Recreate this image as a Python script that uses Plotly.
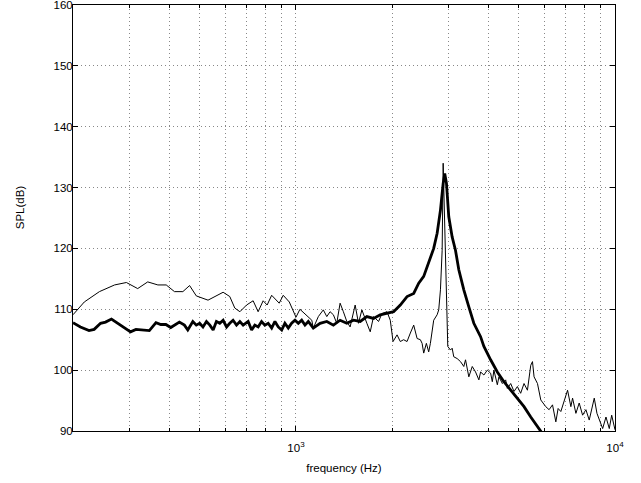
import plotly.graph_objects as go
import math

# Thin line (e.g. measurement 1)
thin_freq = [200, 217, 242, 270, 294, 319, 343, 369, 392, 416, 442, 464, 487, 530, 591, 620, 643, 667,
             700, 734, 761, 789, 812, 839, 886, 912, 953, 1000, 1029, 1093, 1121, 1133, 1175, 1218, 1249,
             1279, 1310, 1342, 1375, 1408, 1443, 1478, 1533, 1570, 1609, 1668, 1709, 1750, 1815, 1860,
             1929, 1975, 2015, 2074, 2123, 2175, 2229, 2283, 2339, 2397, 2454, 2485, 2514, 2563, 2606,
             2638, 2671, 2702, 2770, 2802, 2837, 2872, 2893, 2920, 2963, 2991, 3049, 3087, 3123, 3201,
             3279, 3358, 3400, 3482, 3569, 3655, 3744, 3790, 3882, 3979, 4075, 4125, 4173, 4277, 4327,
             4435, 4542, 4598, 4710, 4824, 4943, 5062, 5186, 5315, 5444, 5512, 5576, 5715, 5853, 6067,
             6214, 6369, 6524, 6633, 6764, 6928, 7101, 7272, 7362, 7541, 7723, 7915, 8106, 8303, 8510,
             8609, 8779, 8926, 9148, 9370, 9596, 9763, 9950, 10000]
thin_spl = [109.1, 111.2, 112.9, 114.0, 114.4, 113.4, 114.5, 114.0, 114.0, 112.9, 112.9, 113.9, 112.2,
            111.5, 112.8, 112.1, 110.2, 109.6, 110.7, 111.4, 109.6, 111.4, 110.7, 112.3, 111.0, 112.3,
            111.2, 108.7, 110.0, 108.8, 108.2, 106.9, 108.8, 109.9, 108.8, 109.6, 109.1, 107.7, 111.0,
            109.6, 108.0, 107.1, 110.7, 107.7, 109.9, 107.7, 106.3, 108.8, 108.0, 109.3, 109.6, 108.2,
            104.7, 105.8, 104.7, 105.0, 104.7, 106.1, 107.4, 105.2, 105.0, 104.4, 102.8, 104.4, 103.0,
            104.4, 106.3, 108.2, 109.1, 109.9, 113.2, 119.7, 134.0, 125.2, 109.9, 103.9, 103.3, 103.6,
            102.2, 101.9, 101.4, 100.6, 101.7, 98.9, 100.6, 99.7, 98.4, 99.7, 99.2, 100.0, 99.5, 98.1,
            100.0, 97.6, 98.9, 97.8, 98.4, 97.0, 97.8, 96.5, 97.3, 96.2, 97.8, 96.7, 100.8, 101.4, 98.9,
            97.8, 95.1, 94.0, 93.5, 94.3, 91.5, 93.7, 93.2, 95.1, 96.7, 94.0, 95.4, 92.9, 94.6, 92.6,
            93.5, 91.8, 94.6, 95.4, 92.9, 91.8, 90.4, 92.3, 90.4, 92.6, 90.2, 90.2]

# Thick line (e.g. measurement 2)
thick_freq = [200, 211, 224.5, 233, 244, 253, 264, 276, 289, 303, 315, 330, 347, 364, 377, 391, 405, 431,
              447, 458, 475, 487, 499, 511, 524, 537, 550, 563, 577, 591, 606, 620, 635, 651, 667, 683,
              708, 726, 743, 761, 780, 799, 818, 839, 859, 880, 902, 923, 946, 969, 993, 1017, 1042,
              1067, 1093, 1133, 1190, 1249, 1310, 1375, 1443, 1514, 1590, 1668, 1750, 1837, 1929, 2023,
              2123, 2229, 2339, 2425, 2514, 2606, 2702, 2770, 2837, 2893, 2926, 2963, 3013, 3087, 3162,
              3239, 3358, 3482, 3610, 3790, 3882, 4075, 4277, 4486, 4710, 4943, 5186, 5444, 5715, 5937]
thick_spl = [107.8, 107.1, 106.5, 106.7, 107.7, 107.9, 108.4, 107.7, 107.1, 106.3, 106.7, 106.6, 106.5,
             107.8, 107.5, 107.5, 107.0, 107.9, 107.4, 106.6, 108.0, 107.4, 107.7, 107.1, 108.0, 107.4,
             106.6, 108.0, 107.7, 108.2, 107.1, 107.7, 108.2, 107.4, 108.0, 107.4, 108.0, 106.6, 107.4,
             107.1, 108.0, 107.4, 107.7, 106.9, 108.0, 107.1, 106.6, 107.7, 106.9, 107.7, 108.2, 107.7,
             108.2, 107.4, 108.0, 106.9, 107.7, 108.0, 107.4, 108.2, 107.7, 108.2, 108.0, 108.8, 108.5,
             109.1, 109.3, 109.6, 110.7, 112.1, 112.6, 114.3, 115.4, 117.6, 120.0, 122.5, 126.3, 130.7,
             132.3, 130.7, 125.2, 121.9, 119.7, 116.5, 113.2, 110.4, 107.7, 105.5, 103.9, 101.7, 99.7,
             98.1, 96.7, 95.4, 94.0, 92.3, 90.7, 89.5]

x_major = [1000, 10000]
x_major_text = ["10<sup>3</sup>", "10<sup>4</sup>"]
x_minor = [300, 400, 500, 600, 700, 800, 900, 2000, 3000, 4000, 5000, 6000, 7000, 8000, 9000]
y_ticks = [90, 100, 110, 120, 130, 140, 150, 160]

FONT = "Liberation Sans, Arial, Helvetica, sans-serif"
GRID = "#888888"
DOT = "1px,3px"
FS = 11.5

fig = go.Figure()
fig.add_trace(go.Scatter(x=thin_freq, y=thin_spl, mode="lines",
                         line=dict(color="black", width=1), showlegend=False))
fig.add_trace(go.Scatter(x=thick_freq, y=thick_spl, mode="lines",
                         line=dict(color="black", width=2.8), showlegend=False))

fig.update_layout(
    width=641, height=483,
    margin=dict(l=73, r=26, t=5, b=52, autoexpand=False),
    paper_bgcolor="white", plot_bgcolor="white",
    font=dict(family=FONT, size=FS, color="black"),
)
fig.update_xaxes(
    type="log", range=[math.log10(200), 4],
    tickmode="array", tickvals=x_major, ticktext=x_major_text,
    ticks="inside", ticklen=5, tickcolor="black", tickwidth=1,
    showline=True, linecolor="black", linewidth=1, mirror="allticks",
    showgrid=True, gridcolor=GRID, griddash=DOT, gridwidth=1,
    minor=dict(tickmode="array", tickvals=x_minor, ticks="inside", ticklen=3,
               tickcolor="black", showgrid=True, gridcolor=GRID, griddash=DOT, gridwidth=1),
    zeroline=False, automargin=False,
    ticklabelstandoff=6,
    ticklabeloverflow="allow",
    title=dict(text="frequency (Hz)", font=dict(size=FS), standoff=11),
    tickfont=dict(size=FS),
)
fig.update_yaxes(
    range=[90, 160], tickmode="array", tickvals=y_ticks,
    ticks="inside", ticklen=5, tickcolor="black", tickwidth=1,
    showline=True, linecolor="black", linewidth=1, mirror="allticks",
    showgrid=True, gridcolor=GRID, griddash=DOT, gridwidth=1,
    zeroline=False, automargin=False,
    ticklabelstandoff=-3,
    ticklabeloverflow="allow",
    tickfont=dict(size=FS),
)
fig.add_annotation(text="SPL(dB)", textangle=-90, showarrow=False,
                   xref="paper", yref="paper", x=-0.098, y=0.525,
                   xanchor="center", yanchor="middle", font=dict(size=FS))

fig.write_html("out.html")
